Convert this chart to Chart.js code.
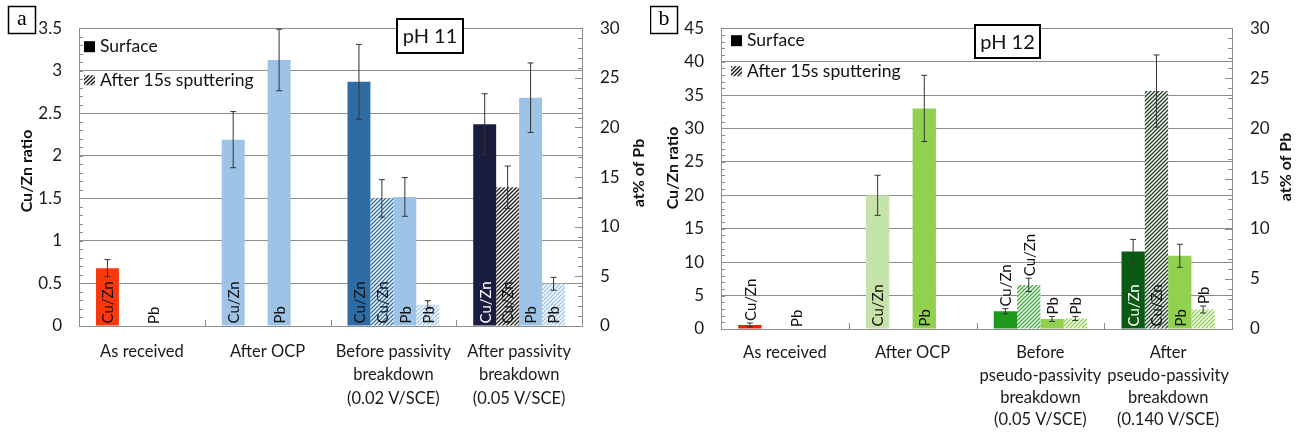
<!DOCTYPE html>
<html>
<head>
<meta charset="utf-8">
<script src="https://cdn.jsdelivr.net/npm/chart.js@4.4.1/dist/chart.umd.min.js"></script>
<style>
  body { margin: 0; background: #fff; }
  .panel { position: absolute; top: 0; width: 650px; height: 434px; }
  #panelA { left: 0; }
  #panelB { left: 650px; }
</style>
</head>
<body>
<div class="panel" id="panelA"><canvas id="chartA" width="650" height="434"></canvas></div>
<div class="panel" id="panelB"><canvas id="chartB" width="650" height="434"></canvas></div>
<script>
// ---- data, panel a (pH 11) ----
const categoriesA = ['As received', 'After OCP',
  ['Before passivity', 'breakdown', '(0.02 V/SCE)'],
  ['After passivity', 'breakdown', '(0.05 V/SCE)']];
const cuznSurfaceA = [0.68, 2.19, 2.87, 2.37];
const cuznSurfaceErrA = [0.1, 0.33, 0.44, 0.36];
const cuznSputterA = [null, null, 1.5, 1.63];
const cuznSputterErrA = [null, null, 0.22, 0.25];
const pbSurfaceA = [0, 26.8, 13.0, 23.0];
const pbSurfaceErrA = [0, 3.1, 1.95, 3.5];
const pbSputterA = [null, null, 2.15, 4.25];
const pbSputterErrA = [null, null, 0.4, 0.65];

// ---- data, panel b (pH 12) ----
const categoriesB = ['As received', 'After OCP',
  ['Before', 'pseudo-passivity', 'breakdown', '(0.05 V/SCE)'],
  ['After', 'pseudo-passivity', 'breakdown', '(0.140 V/SCE)']];
const cuznSurfaceB = [0.6, 20, 2.65, 11.6];
const cuznSurfaceErrB = [0.3, 3, 0.4, 1.8];
const cuznSputterB = [null, null, 6.6, 35.6];
const cuznSputterErrB = [null, null, 1.0, 5.4];
const pbSurfaceB = [0, 22, 1.0, 7.3];
const pbSurfaceErrB = [0, 3.3, 0.25, 1.15];
const pbSputterB = [null, null, 1.05, 1.94];
const pbSputterErrB = [null, null, 0.2, 0.35];

const ticksLeftA = { max: 3.5, step: 0.5, minor: 0.1 };
const ticksLeftB = { max: 45, step: 5, minor: 1 };
const ticksRight = { max: 30, step: 5, minor: 1 };

const FONT = 'Lato, "Open Sans", sans-serif';
const GRID = '#8c8c8c';

function hatch(color) {
  const s = 4;
  const c = document.createElement('canvas');
  c.width = s; c.height = s;
  const g = c.getContext('2d');
  g.fillStyle = '#fff';
  g.fillRect(0, 0, s, s);
  g.strokeStyle = color;
  g.lineWidth = 1.3;
  g.beginPath();
  g.moveTo(0, s); g.lineTo(s, 0);
  g.moveTo(-1, 1); g.lineTo(1, -1);
  g.moveTo(s - 1, s + 1); g.lineTo(s + 1, s - 1);
  g.stroke();
  return g.createPattern(c, 'repeat');
}

// error bars + rotated labels on each bar
const barExtras = {
  id: 'barExtras',
  afterDatasetsDraw(chart) {
    const ctx = chart.ctx;
    chart.data.datasets.forEach((ds, di) => {
      const meta = chart.getDatasetMeta(di);
      const scale = chart.scales[ds.yAxisID];
      meta.data.forEach((bar, i) => {
        const v = ds.data[i];
        if (v === null || v === undefined) return;
        const e = ds.errors[i] || 0;
        const x = bar.x;
        let top = bar.y;
        if (e > 0) {
          const y1 = scale.getPixelForValue(v + e);
          const y2 = scale.getPixelForValue(Math.max(v - e, 0));
          ctx.save();
          ctx.strokeStyle = '#333';
          ctx.lineWidth = 1;
          ctx.beginPath();
          ctx.moveTo(x, y1); ctx.lineTo(x, y2);
          ctx.moveTo(x - 3, y1); ctx.lineTo(x + 3, y1);
          ctx.moveTo(x - 3, y2); ctx.lineTo(x + 3, y2);
          ctx.stroke();
          ctx.restore();
          top = Math.min(top, y1);
        }
        ctx.save();
        ctx.font = '15px ' + FONT;
        const w = ctx.measureText(ds.barLabel).width;
        const h = bar.base - bar.y;
        const start = (h === 0 || h >= w + 3) ? bar.base - 2 : top - 2;
        ctx.translate(x + 1, start);
        ctx.rotate(-Math.PI / 2);
        ctx.textAlign = 'left';
        ctx.textBaseline = 'middle';
        ctx.fillStyle = ds.labelColors ? ds.labelColors[i] : '#111';
        ctx.fillText(ds.barLabel, 0, 0);
        ctx.restore();
      });
    });
  }
};

// minor ticks, category ticks, legend, pH box, panel letter, axis titles
const decor = {
  id: 'decor',
  afterDraw(chart, args, o) {
    const ctx = chart.ctx;
    const a = chart.chartArea;
    const yL = chart.scales.y, yR = chart.scales.y1, x = chart.scales.x;
    ctx.save();
    ctx.strokeStyle = GRID;
    ctx.lineWidth = 1;
    ctx.beginPath();
    for (let v = 0; v <= o.left.max + 1e-9; v += o.left.minor) {
      const p = Math.round(yL.getPixelForValue(v)) + 0.5;
      ctx.moveTo(a.left, p); ctx.lineTo(a.left + 4, p);
    }
    for (let v = 0; v <= o.right.max + 1e-9; v += o.right.minor) {
      const p = Math.round(yR.getPixelForValue(v)) + 0.5;
      const major = Math.abs(v / o.right.step - Math.round(v / o.right.step)) < 1e-6;
      ctx.moveTo(a.right, p); ctx.lineTo(a.right - (major ? 7 : 4), p);
    }
    const n = chart.data.labels.length;
    const gw = (a.right - a.left) / n;
    for (let k = 1; k < n; k++) {
      const px = Math.round(x.getPixelForValue(k) - gw / 2) + 0.5;
      ctx.moveTo(px, a.bottom); ctx.lineTo(px, a.bottom - 6);
    }
    ctx.stroke();

    // legend
    ctx.font = '17.5px ' + FONT;
    ctx.textBaseline = 'middle';
    ctx.textAlign = 'left';
    ctx.fillStyle = '#000';
    ctx.fillRect(a.left + o.legend.dx, a.top + o.legend.dy1 - 5, 11, 11);
    ctx.fillStyle = '#111';
    ctx.fillText('Surface', a.left + o.legend.tx, a.top + o.legend.dy1);
    ctx.fillStyle = hatch('#111');
    ctx.fillRect(a.left + o.legend.dx, a.top + o.legend.dy2 - 5, 11, 10);
    ctx.fillStyle = '#111';
    ctx.fillText('After 15s sputtering', a.left + o.legend.tx, a.top + o.legend.dy2);

    // pH box
    const b = o.phBox;
    ctx.fillStyle = '#fff';
    ctx.fillRect(b.x, b.y, b.w, b.h);
    ctx.strokeStyle = '#000';
    ctx.lineWidth = 2;
    ctx.strokeRect(b.x, b.y, b.w, b.h);
    ctx.fillStyle = '#111';
    ctx.font = '20px ' + FONT;
    ctx.textAlign = 'center';
    ctx.fillText(o.phText, b.x + b.w / 2, b.y + b.h / 2 + 1);

    // panel letter
    ctx.lineWidth = 1.5;
    ctx.strokeRect(o.letterBox.x, o.letterBox.y, 27, 27);
    ctx.font = '22px "Liberation Serif", "DejaVu Serif", serif';
    ctx.fillStyle = '#000';
    ctx.fillText(o.letter, o.letterBox.x + 13.5, o.letterBox.y + 13);

    // axis titles
    ctx.font = 'bold 16px ' + FONT;
    ctx.fillStyle = '#111';
    [[o.leftTitle, 'Cu/Zn ratio'], [o.rightTitle, 'at% of Pb']].forEach(([pos, t]) => {
      ctx.save();
      ctx.translate(pos.x, pos.y);
      ctx.rotate(-Math.PI / 2);
      ctx.fillText(t, 0, 0);
      ctx.restore();
    });
    ctx.restore();
  }
};

function makeChart(id, cfg) {
  const datasets = [
    { label: 'Cu/Zn surface', barLabel: 'Cu/Zn', data: cfg.cuznSurface, errors: cfg.cuznSurfaceErr,
      yAxisID: 'y', backgroundColor: cfg.colors[0], labelColors: cfg.labelColors },
    { label: 'Cu/Zn sputtered', barLabel: 'Cu/Zn', data: cfg.cuznSputter, errors: cfg.cuznSputterErr,
      yAxisID: 'y', backgroundColor: cfg.colors[1] },
    { label: 'Pb surface', barLabel: 'Pb', data: cfg.pbSurface, errors: cfg.pbSurfaceErr,
      yAxisID: 'y1', backgroundColor: cfg.colors[2] },
    { label: 'Pb sputtered', barLabel: 'Pb', data: cfg.pbSputter, errors: cfg.pbSputterErr,
      yAxisID: 'y1', backgroundColor: cfg.colors[3] }
  ];
  const plain = v => String(+v.toFixed(2));
  return new Chart(document.getElementById(id), {
    type: 'bar',
    data: { labels: cfg.labels, datasets },
    plugins: [barExtras, decor],
    options: {
      responsive: false,
      animation: false,
      devicePixelRatio: 1,
      categoryPercentage: 0.73,
      barPercentage: 1,
      layout: { padding: { top: cfg.top, left: 0, right: 0, bottom: 0 } },
      plugins: { legend: { display: false }, tooltip: { enabled: false }, decor: cfg.decor },
      scales: {
        x: {
          grid: { display: false },
          border: { display: true, color: GRID },
          ticks: { color: '#1a1a1a', font: { family: FONT, size: 16.5, lineHeight: cfg.lineHeight },
                   padding: cfg.xPad, maxRotation: 0, autoSkip: false },
          afterFit: s => { s.height = cfg.bottomH; }
        },
        y: {
          position: 'left', min: 0, max: cfg.left.max,
          ticks: { stepSize: cfg.left.step, color: '#1a1a1a', padding: 17, font: { family: FONT, size: 17 },
                   callback: plain },
          grid: { color: GRID, drawTicks: false },
          border: { color: GRID },
          afterFit: s => { s.width = cfg.leftW; }
        },
        y1: {
          position: 'right', min: 0, max: ticksRight.max,
          ticks: { stepSize: ticksRight.step, color: '#1a1a1a', padding: 18, font: { family: FONT, size: 17 },
                   callback: plain },
          grid: { drawOnChartArea: false, drawTicks: false },
          border: { color: GRID },
          afterFit: s => { s.width = cfg.rightW; }
        }
      }
    }
  });
}

makeChart('chartA', {
  labels: categoriesA,
  cuznSurface: cuznSurfaceA, cuznSurfaceErr: cuznSurfaceErrA,
  cuznSputter: cuznSputterA, cuznSputterErr: cuznSputterErrA,
  pbSurface: pbSurfaceA, pbSurfaceErr: pbSurfaceErrA,
  pbSputter: pbSputterA, pbSputterErr: pbSputterErrA,
  colors: [
    ['#f9380d', '#9dc3e6', '#2e6da4', '#1a1d3d'],
    [null, null, hatch('#2e6da4'), hatch('#1a1a1a')],
    '#9dc3e6',
    hatch('#9dc3e6')
  ],
  labelColors: ['#111', '#111', '#111', '#fff'],
  left: ticksLeftA,
  top: 19, leftW: 79, rightW: 68, bottomH: 108, lineHeight: 1.42, xPad: 6,
  decor: {
    left: ticksLeftA, right: ticksRight,
    legend: { dx: 5, tx: 21, dy1: 18, dy2: 52 },
    phBox: { x: 397, y: 19, w: 66, h: 34 }, phText: 'pH 11',
    letter: 'a', letterBox: { x: 8.5, y: 6.5 },
    leftTitle: { x: 27, y: 171 }, rightTitle: { x: 639, y: 173 }
  }
});

makeChart('chartB', {
  labels: categoriesB,
  cuznSurface: cuznSurfaceB, cuznSurfaceErr: cuznSurfaceErrB,
  cuznSputter: cuznSputterB, cuznSputterErr: cuznSputterErrB,
  pbSurface: pbSurfaceB, pbSurfaceErr: pbSurfaceErrB,
  pbSputter: pbSputterB, pbSputterErr: pbSputterErrB,
  colors: [
    ['#ff1a00', '#c5e3aa', '#1e9b1e', '#0b5a14'],
    [null, null, hatch('#3ca83c'), hatch('#1f3d22')],
    '#92d050',
    hatch('#92d050')
  ],
  labelColors: ['#111', '#111', '#111', '#fff'],
  left: ticksLeftB,
  top: 25, leftW: 71, rightW: 68, bottomH: 105, lineHeight: 1.35, xPad: 5,
  decor: {
    left: ticksLeftB, right: ticksRight,
    legend: { dx: 10, tx: 26, dy1: 12, dy2: 43 },
    phBox: { x: 325, y: 25, w: 65, h: 33 }, phText: 'pH 12',
    letter: 'b', letterBox: { x: 0.5, y: 6.5 },
    leftTitle: { x: 23, y: 168 }, rightTitle: { x: 636, y: 167 }
  }
});
</script>
</body>
</html>
